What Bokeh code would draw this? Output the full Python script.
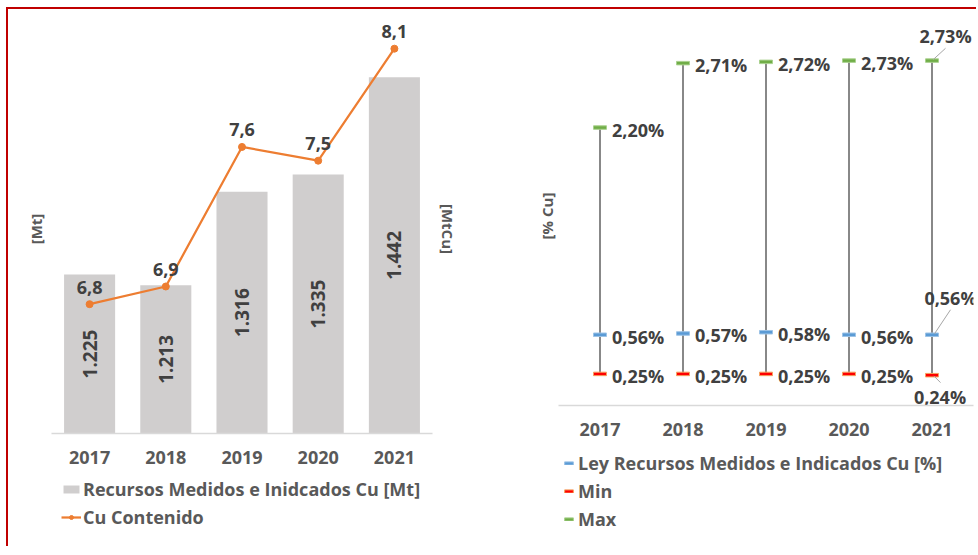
import math
from bokeh.plotting import figure
from bokeh.models import (ColumnDataSource, Range1d, FactorRange, Legend, LegendItem,
                          FixedTicker, LinearAxis)
from bokeh.layouts import row, column
from bokeh.embed import file_html
from bokeh.resources import INLINE
from bokeh.core.properties import value

# ---------------- data ----------------
years = ["2017", "2018", "2019", "2020", "2021"]
recursos_mt = [1225, 1213, 1316, 1335, 1442]
cu_contenido = [6.80, 6.89, 7.60, 7.53, 8.10]
cu_labels = ["6,8", "6,9", "7,6", "7,5", "8,1"]
ley_pct = [0.56, 0.57, 0.58, 0.56, 0.56]
min_pct = [0.25, 0.25, 0.25, 0.25, 0.24]
max_pct = [2.20, 2.71, 2.72, 2.73, 2.73]

FONT = "Open Sans"
DARK = "#404040"
GRAY = "#595959"
FS = "18px"
BAR_BASE = 1050

BAR_COLOR = "#D0CECE"
LINE_COLOR = "#ED7D31"
LEY_STYLE = dict(fill_color="#5B9BD5", line_color="#9DC3E6")
MIN_STYLE = dict(fill_color="#FF0000", line_color="#F4A460")
MAX_STYLE = dict(fill_color="#70AD47", line_color="#A9D18E")


def pct(v):
    return f"{v:.2f}".replace(".", ",") + "%"


def thousands(v):
    return f"{v:,}".replace(",", ".")


def style_xaxis(ax):
    ax.axis_line_color = "#D9D9D9"
    ax.axis_line_width = 1.5
    ax.major_tick_line_color = None
    ax.minor_tick_line_color = None
    ax.major_tick_out = 0
    ax.major_label_standoff = 17
    ax.major_label_text_font = FONT
    ax.major_label_text_font_size = FS
    ax.major_label_text_font_style = "bold"
    ax.major_label_text_color = GRAY


def title_axis(ax, label, standoff):
    ax.ticker = FixedTicker(ticks=[])
    ax.axis_line_color = None
    ax.major_tick_line_color = None
    ax.minor_tick_line_color = None
    ax.major_tick_out = 0
    ax.minor_tick_out = 0
    ax.major_label_standoff = 0
    ax.axis_label = label
    ax.axis_label_standoff = standoff
    ax.axis_label_text_font = FONT
    ax.axis_label_text_font_size = "15px"
    ax.axis_label_text_font_style = "bold"
    ax.axis_label_text_color = GRAY


def legend_fig(width, height):
    # a plain panel that only carries a legend (its frame lines up with the chart above)
    f = figure(width=width, height=height, x_range=Range1d(1, 2), y_range=Range1d(1, 2),
               x_axis_type=None, y_axis_type=None, min_border=0,
               toolbar_location=None, output_backend="svg", outline_line_color=None)
    f.grid.visible = False
    return f


def make_legend(items, loc, glyph_w, glyph_h, standoff):
    return Legend(items=items, location=loc, orientation="vertical", padding=0, margin=0,
                  spacing=4, glyph_width=glyph_w, glyph_height=glyph_h, label_height=20,
                  label_standoff=standoff, border_line_color=None, background_fill_alpha=0,
                  label_text_font=FONT, label_text_font_size=FS,
                  label_text_font_style="bold", label_text_color=GRAY)


# ---------------- left chart ----------------
p1 = figure(x_range=FactorRange(*years), y_range=Range1d(BAR_BASE, 1500),
            frame_width=381, frame_height=409,
            min_border_left=43, min_border_right=56, min_border_top=15, min_border_bottom=45,
            toolbar_location=None, output_backend="svg", outline_line_color=None)
p1.extra_y_ranges = {"cu": Range1d(6.142, 8.223)}
p1.grid.visible = False
style_xaxis(p1.xaxis[0])
title_axis(p1.yaxis[0], "[Mt]", 6)
right_ax = LinearAxis(y_range_name="cu")
title_axis(right_ax, "[MtCu]", 5)
p1.add_layout(right_ax, "right")

bar_src = ColumnDataSource(dict(
    x=years, top=recursos_mt, bottom=[BAR_BASE] * len(years),
    mid=[(BAR_BASE + v) / 2 for v in recursos_mt],
    lab=[thousands(v) for v in recursos_mt]))
p1.vbar(x="x", top="top", bottom="bottom", width=0.67, source=bar_src,
        fill_color=BAR_COLOR, line_color=None)
p1.text(x="x", y="mid", text="lab", source=bar_src, angle=math.pi / 2,
        text_align="center", text_baseline="middle", text_font=value(FONT),
        text_font_size="19px", text_font_style="bold", text_color=DARK)

line_src = ColumnDataSource(dict(x=years, y=cu_contenido, lab=cu_labels))
p1.line(x="x", y="y", source=line_src, line_color=LINE_COLOR, line_width=2.25,
        y_range_name="cu")
p1.scatter(x="x", y="y", source=line_src, marker="circle", size=7,
           fill_color=LINE_COLOR, line_color=LINE_COLOR, y_range_name="cu")
p1.text(x="x", y="y", text="lab", source=line_src, y_offset=-17, y_range_name="cu",
        text_align="center", text_baseline="middle", text_font=value(FONT),
        text_font_size=FS, text_font_style="bold", text_color=DARK)

# legend panel for left chart (swatch renderers sit outside the panel's visible range)
l1 = legend_fig(480, 68)
lb = l1.vbar(x=[0], top=[0.5], bottom=[0], width=0.5, fill_color=BAR_COLOR, line_color=None)
ll = l1.line(x=[0, 0.2], y=[0, 0], line_color=LINE_COLOR, line_width=2.25)
ls = l1.scatter(x=[0], y=[0], marker="circle", size=7, fill_color=LINE_COLOR,
                line_color=LINE_COLOR)
l1.add_layout(make_legend([
    LegendItem(label="Recursos Medidos e Inidcados Cu [Mt]", renderers=[lb]),
    LegendItem(label="Cu Contenido", renderers=[ll, ls]),
], (10, 17), 20, 10, 2))

# ---------------- right chart ----------------
FW2, FH2 = 415, 379
Y2MAX = 3.0
p2 = figure(x_range=Range1d(0.5, len(years) + 0.5), y_range=Range1d(0, Y2MAX),
            frame_width=FW2, frame_height=FH2,
            min_border_left=70, min_border_right=3, min_border_top=17, min_border_bottom=45,
            toolbar_location=None, output_backend="svg", outline_line_color=None)
p2.grid.visible = False
xs = list(range(1, len(years) + 1))
p2.xaxis.ticker = FixedTicker(ticks=xs)
p2.xaxis.major_label_overrides = {i: y for i, y in zip(xs, years)}
style_xaxis(p2.xaxis[0])
title_axis(p2.yaxis[0], "[% Cu]", 2)

PX_X = (len(years)) / FW2
PX_Y = Y2MAX / FH2

p2.segment(x0=xs, y0=min_pct, x1=xs, y1=max_pct, line_color=DARK, line_width=1.25)

mk = dict(width=13, height=3.5, width_units="screen", height_units="screen", line_width=1)
p2.rect(x=xs, y=ley_pct, **LEY_STYLE, **mk)
p2.rect(x=xs, y=min_pct, **MIN_STYLE, **mk)
p2.rect(x=xs, y=max_pct, **MAX_STYLE, **mk)

txt = dict(text_font=value(FONT), text_font_size=FS, text_font_style="bold", text_color=DARK,
           text_baseline="middle")
for series in (max_pct, ley_pct, min_pct):
    p2.text(x=xs[:-1], y=series[:-1], text=[pct(v) for v in series[:-1]],
            x_offset=12, y_offset=2, text_align="left", **txt)

# last year labels pulled out with leader lines
last = xs[-1]
specials = [
    (max_pct[-1], (1.2, 1.0), (13.5, 12.3), (13.5, -25)),
    (ley_pct[-1], (2.5, 1.0), (18.5, 25.0), (18.5, -37)),
    (min_pct[-1], (1.8, -0.7), (8.5, -7.4), (8.0, 22)),
]
for v, (sx0, sy0), (sx1, sy1), (ox, oy) in specials:
    p2.segment(x0=[last + sx0 * PX_X], y0=[v + sy0 * PX_Y],
               x1=[last + sx1 * PX_X], y1=[v + sy1 * PX_Y],
               line_color="#A6A6A6", line_width=1)
    p2.text(x=[last], y=[v], text=[pct(v)], x_offset=ox, y_offset=oy,
            text_align="center", **txt)

# legend panel for right chart
l2 = legend_fig(488, 96)
mk_leg = dict(width=0.5, height=0.5, line_width=1)
g_ley = l2.rect(x=[0], y=[0], **LEY_STYLE, **mk_leg)
g_min = l2.rect(x=[0], y=[0], **MIN_STYLE, **mk_leg)
g_max = l2.rect(x=[0], y=[0], **MAX_STYLE, **mk_leg)
l2.add_layout(make_legend([
    LegendItem(label="Ley Recursos Medidos e Indicados Cu [%]", renderers=[g_ley]),
    LegendItem(label="Min", renderers=[g_min]),
    LegendItem(label="Max", renderers=[g_max]),
], (5, 15), 11, 4, 4))

layout = row(column(p1, l1), column(p2, l2),
             styles={"border-top": "2px solid #C00000",
                     "border-left": "2px solid #C00000",
                     "margin-left": "6px", "margin-top": "7px"})

open("out.html", "w").write(file_html(layout, INLINE))
